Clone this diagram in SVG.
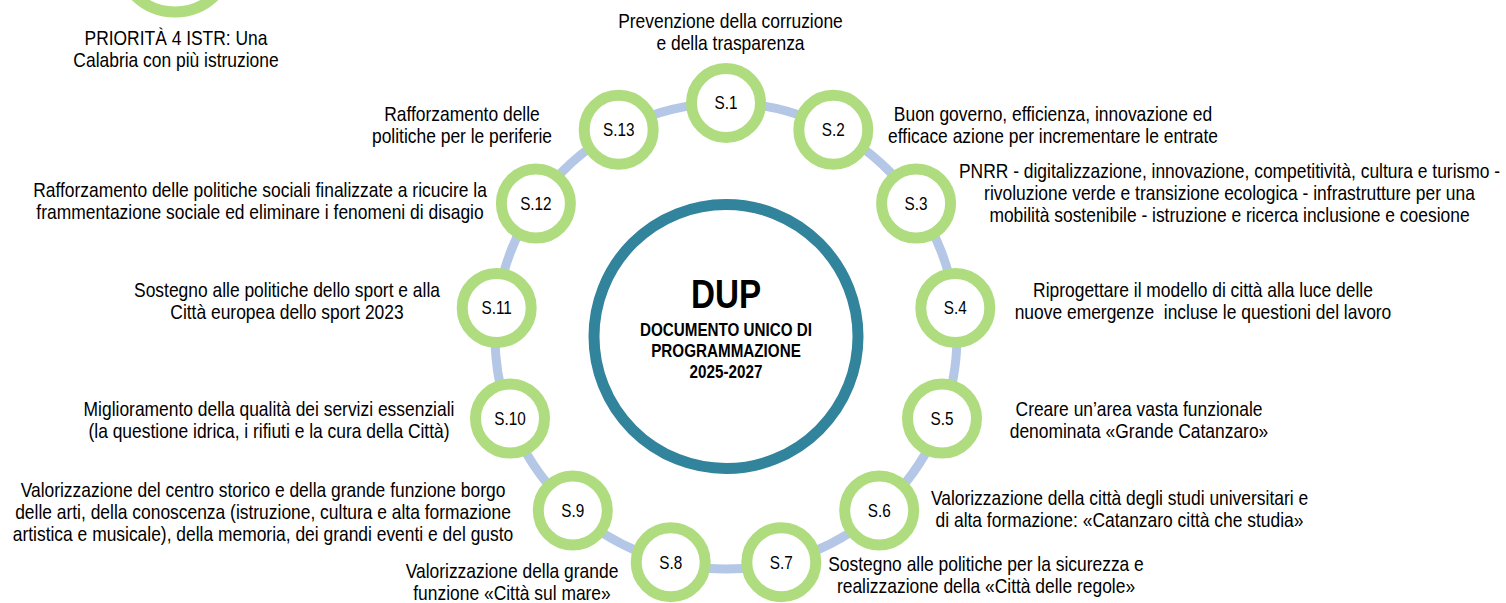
<svg xmlns="http://www.w3.org/2000/svg" width="1506" height="603" viewBox="0 0 1506 603">
<style>
.lbl{font-family:"Liberation Sans",Arial,sans-serif;font-size:20.5px;fill:#000;text-anchor:middle}
.sl{font-family:"Liberation Sans",Arial,sans-serif;font-size:18px;fill:#000;text-anchor:middle}
.node{fill:#fff;stroke:#B0DC80;stroke-width:11}
.ring{fill:none;stroke:#B4C7E7;stroke-width:9}
.hub{fill:#fff;stroke:#31849B;stroke-width:11}
.hubt{font-family:"Liberation Sans",Arial,sans-serif;font-weight:bold;fill:#000;text-anchor:middle}
</style>
<rect width="1506" height="603" fill="#fff"/>
<g id="connectors">
<ellipse class="ring" cx="726" cy="336" rx="231" ry="233"/>
</g>
<g id="priority4">
<circle class="node" cx="175" cy="-45" r="57"/>
<text class="lbl" transform="translate(176 0) scale(0.85 1)"><tspan x="0" y="45">PRIORITÀ 4 ISTR: Una</tspan><tspan x="0" y="67">Calabria con più istruzione</tspan></text>
</g>
<g id="dup">
<circle class="hub" cx="726" cy="336.5" r="132"/>
<text class="hubt" font-size="41" transform="translate(726 308) scale(0.81 1)" x="0" y="0">DUP</text>
<text class="hubt" font-size="17.7" transform="translate(726 0) scale(0.86 1)"><tspan x="0" y="336">DOCUMENTO UNICO DI</tspan><tspan x="0" y="357">PROGRAMMAZIONE</tspan><tspan x="0" y="378">2025-2027</tspan></text>
</g>
<g id="s1">
<circle class="node" cx="726" cy="103" r="34.5"/>
<text class="sl" transform="translate(726 0) scale(0.85 1)" x="0" y="109.5">S.1</text>
<text class="lbl" transform="translate(730.5 0) scale(0.85 1)"><tspan x="0" y="28">Prevenzione della corruzione</tspan><tspan x="0" y="50">e della trasparenza</tspan></text>
</g>
<g id="s2">
<circle class="node" cx="833.3" cy="129.7" r="34.5"/>
<text class="sl" transform="translate(833.3 0) scale(0.85 1)" x="0" y="136.2">S.2</text>
<text class="lbl" transform="translate(1053 0) scale(0.85 1)"><tspan x="0" y="121">Buon governo, efficienza, innovazione ed</tspan><tspan x="0" y="143">efficace azione per incrementare le entrate</tspan></text>
</g>
<g id="s3">
<circle class="node" cx="916.1" cy="203.6" r="34.5"/>
<text class="sl" transform="translate(916.1 0) scale(0.85 1)" x="0" y="210.1">S.3</text>
<text class="lbl" transform="translate(1229.5 0) scale(0.85 1)"><tspan x="0" y="178">PNRR - digitalizzazione, innovazione, competitività, cultura e turismo -</tspan><tspan x="0" y="200">rivoluzione verde e transizione ecologica - infrastrutture per una</tspan><tspan x="0" y="222">mobilità sostenibile - istruzione e ricerca inclusione e coesione</tspan></text>
</g>
<g id="s4">
<circle class="node" cx="955.3" cy="307.9" r="34.5"/>
<text class="sl" transform="translate(955.3 0) scale(0.85 1)" x="0" y="314.4">S.4</text>
<text class="lbl" transform="translate(1203 0) scale(0.85 1)" xml:space="preserve"><tspan x="0" y="297">Riprogettare il modello di città alla luce delle</tspan><tspan x="0" y="319">nuove emergenze  incluse le questioni del lavoro</tspan></text>
</g>
<g id="s5">
<circle class="node" cx="942" cy="418.6" r="34.5"/>
<text class="sl" transform="translate(942 0) scale(0.85 1)" x="0" y="425.1">S.5</text>
<text class="lbl" transform="translate(1139 0) scale(0.85 1)"><tspan x="0" y="416">Creare un’area vasta funzionale</tspan><tspan x="0" y="438">denominata «Grande Catanzaro»</tspan></text>
</g>
<g id="s6">
<circle class="node" cx="879.2" cy="510.4" r="34.5"/>
<text class="sl" transform="translate(879.2 0) scale(0.85 1)" x="0" y="516.9">S.6</text>
<text class="lbl" transform="translate(1119.5 0) scale(0.85 1)"><tspan x="0" y="505">Valorizzazione della città degli studi universitari e</tspan><tspan x="0" y="527">di alta formazione: «Catanzaro città che studia»</tspan></text>
</g>
<g id="s7">
<circle class="node" cx="781.3" cy="562.2" r="34.5"/>
<text class="sl" transform="translate(781.3 0) scale(0.85 1)" x="0" y="568.7">S.7</text>
<text class="lbl" transform="translate(986 0) scale(0.85 1)"><tspan x="0" y="571">Sostegno alle politiche per la sicurezza e</tspan><tspan x="0" y="593">realizzazione della «Città delle regole»</tspan></text>
</g>
<g id="s8">
<circle class="node" cx="670.7" cy="562.2" r="34.5"/>
<text class="sl" transform="translate(670.7 0) scale(0.85 1)" x="0" y="568.7">S.8</text>
<text class="lbl" transform="translate(512 0) scale(0.85 1)"><tspan x="0" y="578">Valorizzazione della grande</tspan><tspan x="0" y="600">funzione «Città sul mare»</tspan></text>
</g>
<g id="s9">
<circle class="node" cx="572.8" cy="510.4" r="34.5"/>
<text class="sl" transform="translate(572.8 0) scale(0.85 1)" x="0" y="516.9">S.9</text>
<text class="lbl" transform="translate(263 0) scale(0.85 1)"><tspan x="0" y="497">Valorizzazione del centro storico e della grande funzione borgo</tspan><tspan x="0" y="519">delle arti, della conoscenza (istruzione, cultura e alta formazione</tspan><tspan x="0" y="541">artistica e musicale), della memoria, dei grandi eventi e del gusto</tspan></text>
</g>
<g id="s10">
<circle class="node" cx="510" cy="418.6" r="34.5"/>
<text class="sl" transform="translate(510 0) scale(0.85 1)" x="0" y="425.1">S.10</text>
<text class="lbl" transform="translate(269 0) scale(0.85 1)"><tspan x="0" y="416">Miglioramento della qualità dei servizi essenziali</tspan><tspan x="0" y="438">(la questione idrica, i rifiuti e la cura della Città)</tspan></text>
</g>
<g id="s11">
<circle class="node" cx="496.7" cy="307.9" r="34.5"/>
<text class="sl" transform="translate(496.7 0) scale(0.85 1)" x="0" y="314.4">S.11</text>
<text class="lbl" transform="translate(287 0) scale(0.85 1)"><tspan x="0" y="297">Sostegno alle politiche dello sport e alla</tspan><tspan x="0" y="319">Città europea dello sport 2023</tspan></text>
</g>
<g id="s12">
<circle class="node" cx="535.9" cy="203.6" r="34.5"/>
<text class="sl" transform="translate(535.9 0) scale(0.85 1)" x="0" y="210.1">S.12</text>
<text class="lbl" transform="translate(260 0) scale(0.85 1)"><tspan x="0" y="197">Rafforzamento delle politiche sociali finalizzate a ricucire la</tspan><tspan x="0" y="219">frammentazione sociale ed eliminare i fenomeni di disagio</tspan></text>
</g>
<g id="s13">
<circle class="node" cx="618.7" cy="129.7" r="34.5"/>
<text class="sl" transform="translate(618.7 0) scale(0.85 1)" x="0" y="136.2">S.13</text>
<text class="lbl" transform="translate(462 0) scale(0.85 1)"><tspan x="0" y="121">Rafforzamento delle</tspan><tspan x="0" y="143">politiche per le periferie</tspan></text>
</g>
</svg>
